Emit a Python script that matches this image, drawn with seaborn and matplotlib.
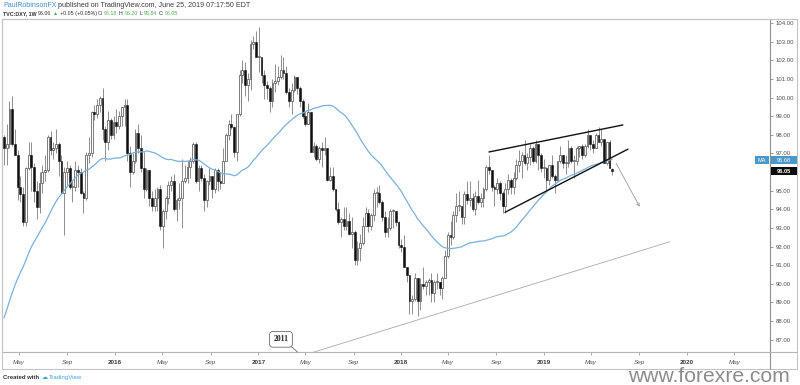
import matplotlib
matplotlib.use("Agg")
import matplotlib.pyplot as plt
import matplotlib.dates as mdates
from matplotlib.patches import Rectangle
from matplotlib.lines import Line2D
import numpy as np
import pandas as pd
import seaborn as sns

# ---------------- data (weekly DXY candles, week starting Monday) ----------------
first_week = "2015-03-23"

open_ = [
    97.9, 97.3, 97.5, 99.4, 97.5, 96.9, 95.2, 94.8, 93.3, 96.2, 96.9, 96.3, 95.0, 94.1, 95.4, 96.0,
    96.1, 97.9, 97.2, 97.3, 97.5, 96.6, 94.9, 96.0, 96.2, 95.2, 95.2, 96.1, 96.0, 94.9, 94.6, 96.9,
    97.0, 99.2, 99.1, 99.6, 100.0, 98.3, 97.6, 98.8, 98.0,
    98.7, 98.5, 99.0, 99.5, 99.6, 97.0, 96.0, 96.6, 98.1, 97.3, 96.2, 95.1, 96.1, 94.6, 94.2, 94.6,
    95.1, 93.1, 93.9, 94.6, 95.3, 95.5, 94.0, 94.5, 94.6, 95.5, 95.7, 96.3, 96.6, 97.5, 95.5, 96.2,
    95.7, 94.5, 95.5, 95.8, 95.1, 96.1, 95.5, 95.4, 96.6, 98.0, 98.6, 98.4, 97.1, 99.1, 101.2, 101.5,
    100.7, 101.0, 102.9, 103.0,
    102.2, 102.2, 101.2, 100.7, 100.5, 99.8, 100.8, 100.9, 101.1, 101.5, 101.3, 100.3, 99.8, 100.4,
    101.1, 100.5, 99.8, 99.0, 98.6, 99.2, 97.1, 97.4, 96.7, 97.3, 97.2, 97.3, 95.6, 95.8, 95.1, 94.0,
    93.3, 93.5, 93.1, 93.4, 92.7, 92.8, 91.3, 91.9, 92.2, 93.1, 93.8, 93.1, 93.7, 94.9, 94.9, 94.4,
    93.6, 92.8, 93.0, 93.9, 93.9, 93.3,
    92.1, 92.0, 90.9, 90.5, 89.1, 89.2, 90.3, 89.1, 90.0, 89.9, 90.1, 90.2, 89.5, 90.1, 90.1, 89.8,
    90.3, 91.5, 92.6, 92.5, 93.7, 94.2, 94.2, 93.6, 94.8, 94.5, 94.6, 94.0, 94.7, 94.4, 94.6, 95.1,
    96.3, 96.1, 95.2, 95.1, 95.4, 94.9, 94.2, 95.1, 95.6, 95.2, 95.7, 96.4, 96.6, 96.9, 96.5, 96.8,
    97.3, 96.6, 97.5, 96.9,
    96.2, 96.2, 95.6, 96.4, 95.8, 95.6, 96.6, 96.9, 96.5, 96.5, 97.3, 96.6, 96.6, 97.3, 97.4, 96.9,
    97.4, 98.0, 97.5, 97.3, 98.0, 97.6, 97.8, 96.5, 97.6, 96.18,
]
high = [
    98.0, 98.6, 99.8, 100.1, 98.3, 97.2, 95.8, 95.2, 96.3, 97.6, 97.6, 96.5, 95.5, 96.0, 96.4, 96.9,
    98.0, 98.2, 97.6, 98.3, 97.6, 96.9, 96.3, 96.6, 96.4, 95.6, 96.6, 96.4, 96.2, 95.0, 97.1, 97.9,
    99.3, 99.6, 99.9, 100.1, 100.5, 98.5, 99.3, 98.9, 99.0,
    99.4, 99.3, 99.5, 99.9, 99.9, 97.4, 97.0, 98.3, 98.6, 98.0, 97.1, 96.2, 96.1, 95.0, 95.1, 95.2,
    95.3, 94.0, 94.7, 95.5, 95.8, 95.9, 94.6, 95.4, 96.7, 96.4, 96.6, 96.8, 97.6, 97.6, 96.4, 96.4,
    95.9, 95.6, 96.2, 95.8, 96.2, 96.2, 96.0, 97.3, 98.1, 98.8, 99.1, 98.5, 99.1, 101.5, 102.0, 101.9,
    101.3, 103.1, 103.3, 103.6,
    103.8, 102.2, 101.5, 100.9, 100.6, 101.0, 101.8, 101.7, 102.3, 102.2, 101.7, 100.5, 100.8, 101.2,
    101.1, 100.6, 99.9, 99.3, 99.7, 99.2, 97.6, 97.5, 97.4, 97.6, 97.9, 97.3, 96.3, 96.3, 95.1, 94.4,
    93.6, 94.1, 94.1, 93.8, 93.6, 92.9, 92.3, 92.7, 93.6, 94.1, 94.0, 93.8, 95.1, 95.2, 95.3, 94.5,
    93.9, 93.6, 94.0, 94.0, 93.9, 93.4,
    92.4, 92.6, 90.9, 90.5, 89.4, 90.6, 90.3, 90.3, 90.9, 90.2, 90.3, 90.6, 90.2, 90.6, 90.1, 90.4,
    91.8, 92.8, 93.4, 93.9, 94.9, 95.0, 94.2, 95.0, 95.5, 95.5, 94.9, 95.0, 95.6, 94.9, 95.2, 96.4,
    96.9, 96.1, 95.3, 95.7, 95.5, 95.0, 95.4, 95.9, 95.7, 96.0, 96.7, 97.2, 97.1, 97.7, 97.0, 97.5,
    97.4, 97.7, 97.5, 97.0,
    96.7, 96.3, 96.4, 96.9, 95.9, 96.6, 97.4, 96.9, 96.9, 97.7, 97.4, 96.9, 97.4, 97.4, 97.5, 97.5,
    98.3, 98.0, 97.7, 98.1, 98.4, 98.3, 97.8, 97.5, 97.7, 96.20,
]
low = [
    96.4, 96.4, 97.3, 97.4, 96.9, 94.5, 94.4, 93.1, 93.1, 96.1, 95.0, 94.4, 93.5, 93.8, 94.9, 95.5,
    96.0, 96.9, 96.7, 97.0, 95.8, 94.8, 92.6, 95.3, 95.1, 94.4, 95.0, 95.2, 94.8, 93.8, 94.5, 96.5,
    96.8, 98.8, 98.9, 99.2, 97.7, 96.6, 97.2, 97.8, 97.8,
    98.1, 98.3, 98.5, 98.5, 96.6, 95.2, 95.9, 96.5, 97.0, 96.0, 94.6, 95.0, 94.2, 93.9, 93.9, 93.9,
    92.9, 91.9, 93.5, 94.3, 95.0, 93.9, 93.4, 94.0, 93.0, 95.4, 95.4, 95.7, 96.5, 95.4, 95.0, 95.5,
    93.9, 94.1, 95.3, 94.6, 94.9, 95.0, 95.1, 95.4, 96.6, 97.7, 98.3, 96.8, 96.6, 99.0, 100.8, 100.1,
    99.8, 100.4, 102.6, 102.2,
    101.4, 100.8, 99.9, 99.9, 99.2, 99.5, 100.3, 100.7, 101.0, 101.0, 100.2, 99.5, 99.1, 100.3,
    100.2, 99.5, 98.9, 98.5, 98.6, 97.1, 96.8, 96.6, 96.5, 96.3, 96.9, 95.5, 95.5, 95.0, 93.9, 93.2,
    92.5, 92.9, 92.9, 92.6, 91.9, 91.0, 91.0, 91.2, 92.1, 93.1, 92.8, 92.9, 93.4, 94.1, 94.3, 93.4,
    92.5, 92.5, 92.9, 93.0, 93.1, 91.9,
    91.7, 90.9, 90.1, 88.4, 88.4, 89.1, 88.25, 88.6, 89.7, 89.4, 89.4, 89.0, 89.0, 89.7, 89.4, 89.2,
    90.3, 91.4, 92.1, 92.4, 93.3, 93.9, 93.2, 93.2, 94.3, 94.2, 93.9, 93.7, 94.3, 94.1, 94.1, 95.0,
    95.9, 95.0, 94.2, 94.8, 94.5, 93.8, 93.8, 94.8, 94.8, 94.8, 95.6, 96.0, 95.7, 96.4, 96.1, 96.4,
    96.5, 96.5, 96.1, 96.0,
    95.7, 95.0, 95.3, 95.7, 94.9, 95.5, 96.5, 96.2, 95.9, 96.3, 96.5, 95.7, 96.4, 96.8, 96.7, 96.8,
    97.3, 97.2, 97.0, 97.3, 97.6, 97.4, 96.5, 96.4, 96.2, 95.84,
]
close = [
    97.3, 97.5, 99.4, 97.5, 96.9, 95.2, 94.8, 93.3, 96.2, 96.9, 96.3, 95.0, 94.1, 95.4, 96.0, 96.1,
    97.9, 97.2, 97.3, 97.5, 96.6, 94.9, 96.0, 96.2, 95.2, 95.25, 96.1, 96.0, 94.9, 94.6, 96.9, 97.0,
    99.2, 99.1, 99.6, 100.0, 98.3, 97.6, 98.8, 98.0, 98.7,
    98.5, 99.0, 99.5, 99.6, 97.0, 96.0, 96.6, 98.1, 97.3, 96.2, 95.1, 96.1, 94.6, 94.2, 94.6, 95.1,
    93.1, 93.9, 94.6, 95.3, 95.5, 94.0, 94.5, 94.6, 95.5, 95.7, 96.3, 96.6, 97.5, 95.5, 96.2, 95.7,
    94.5, 95.5, 95.8, 95.1, 96.1, 95.5, 95.4, 96.6, 98.0, 98.6, 98.4, 97.1, 99.1, 101.2, 101.5, 100.7,
    101.0, 102.9, 103.0, 102.2,
    102.25, 101.2, 100.7, 100.5, 99.8, 100.8, 100.9, 101.1, 101.5, 101.3, 100.3, 99.8, 100.4, 101.1,
    100.5, 99.8, 99.0, 98.6, 99.2, 97.1, 97.4, 96.7, 97.3, 97.2, 97.3, 95.6, 95.8, 95.1, 94.0, 93.3,
    93.5, 93.1, 93.4, 92.7, 92.8, 91.3, 91.9, 92.2, 93.1, 93.8, 93.1, 93.7, 94.9, 94.9, 94.4, 93.6,
    92.8, 93.0, 93.9, 93.9, 93.3, 92.1,
    92.0, 90.9, 90.5, 89.1, 89.2, 90.3, 89.1, 90.0, 89.9, 90.1, 90.2, 89.5, 90.1, 90.1, 89.8, 90.3,
    91.5, 92.6, 92.5, 93.7, 94.2, 94.2, 93.6, 94.8, 94.5, 94.6, 94.0, 94.7, 94.4, 94.6, 95.1, 96.3,
    96.1, 95.2, 95.1, 95.4, 94.9, 94.2, 95.1, 95.6, 95.2, 95.7, 96.4, 96.6, 96.9, 96.5, 96.8, 97.3,
    96.6, 97.5, 96.9, 96.2,
    96.2, 95.6, 96.4, 95.8, 95.6, 96.6, 96.9, 96.5, 96.5, 97.3, 96.6, 96.6, 97.3, 97.4, 96.9, 97.4,
    98.0, 97.5, 97.3, 98.0, 97.6, 97.8, 96.5, 97.6, 96.2, 96.05,
]

# weekly closes before the visible range (Jun 2014 - Mar 2015), they only feed the MA
close_before = [
    80.2, 80.2, 80.1, 80.5, 81.0, 81.4, 81.4, 81.5, 82.3, 82.7, 84.0, 84.3, 84.8, 85.6, 86.7,
    85.8, 85.2, 85.7, 87.0, 87.6, 87.6, 88.2, 88.4, 89.4, 88.4, 89.6, 90.1, 91.3, 91.9, 92.5,
    95.0, 94.8, 94.6, 94.1, 94.4, 95.3, 97.7, 100.0, 97.9,
]
ma_length = 40
ma_last_value = "96.68"
last_close_label = "96.05"

x_tick_dates = ["2015-05-01", "2015-09-01", "2016-01-01", "2016-05-01", "2016-09-01",
                "2017-01-01", "2017-05-01", "2017-09-01", "2018-01-01", "2018-05-01",
                "2018-09-01", "2019-01-01", "2019-05-01", "2019-09-01", "2020-01-01",
                "2020-05-01"]
x_tick_labels = ["May", "Sep", "2016", "May", "Sep", "2017", "May", "Sep", "2018", "May",
                 "Sep", "2019", "May", "Sep", "2020", "May"]
y_ticks = list(range(87, 105))

# drawings on the chart
wedge_upper_dates = ["2018-08-13", "2019-07-21"]
wedge_upper_values = [97.08, 98.53]
wedge_lower_dates = ["2018-09-23", "2019-08-03"]
wedge_lower_values = [93.84, 97.23]
arrow_dates = ["2019-07-04", "2019-09-02"]
arrow_values = [96.47, 94.14]
trend_dates = ["2017-03-23", "2019-11-18"]
trend_values = [85.94, 92.26]
callout_text = "2011"

header1 = ["PaulRobinsonFX", "published on TradingView.com, June 25, 2019 07:17:50 EDT"]
header2 = ["TVC:DXY, 1W", "96.06", "\u25b2", "+0.05 (+0.05%)", "O:", "96.18", "H:", "96.20",
           "L:", "95.84", "C:", "96.05"]

# ---------------- figure ----------------
sns.set_theme(style="white")
plt.rcParams['font.family'] = ['Liberation Sans', 'DejaVu Sans']

W, H = 800, 385
fig = plt.figure(figsize=(W / 100, H / 100), dpi=100)
fig.patch.set_facecolor('white')


def fx(x):
    return x / W


def fy(y):
    return 1 - y / H


ax = fig.add_axes([fx(2), fy(352), (770 - 2) / W, (352 - 19) / H])
ax.set_facecolor('white')

weeks = pd.date_range(first_week, periods=len(close), freq='7D')
df = pd.DataFrame({"week": weeks, "open": open_, "high": high, "low": low, "close": close})
all_close = pd.Series(close_before + close)
df["ma"] = all_close.rolling(ma_length).mean().to_numpy()[len(close_before):]

xs = mdates.date2num(df["week"])
df["x"] = xs
o = df["open"].to_numpy()
c = df["close"].to_numpy()
up = c >= o
bottom = np.minimum(o, c)
height = np.maximum(np.abs(c - o), 0.05)

ax.vlines(xs, df["low"], df["high"], color='#8d8d8d', lw=0.7, zorder=2)
ax.bar(xs[up], height[up], bottom=bottom[up], width=4.6, color='white',
       edgecolor='#5a5a5a', linewidth=0.55, zorder=3)
ax.bar(xs[~up], height[~up], bottom=bottom[~up], width=4.6, color='#111111',
       edgecolor='#111111', linewidth=0.4, zorder=3)

sns.lineplot(data=df, x="x", y="ma", ax=ax, color='#7ab0da', lw=0.9, zorder=4,
             estimator=None, sort=False)

ax.set_xlim(mdates.date2num(pd.Timestamp("2015-03-18")), mdates.date2num(pd.Timestamp("2020-07-31")))
ax.set_ylim(86.34, 104.22)


def dn(lst):
    return mdates.date2num(pd.DatetimeIndex(lst))


ax.plot(dn(wedge_upper_dates), wedge_upper_values, color='#111111', lw=1.0, zorder=5)
ax.plot(dn(wedge_lower_dates), wedge_lower_values, color='#111111', lw=1.0, zorder=5)
ax.plot(dn(trend_dates), trend_values, color='#a9a9a9', lw=0.6, zorder=1)
ad = dn(arrow_dates)
ax.annotate('', xy=(ad[1], arrow_values[1]), xytext=(ad[0], arrow_values[0]),
            arrowprops=dict(arrowstyle='->', color='#9c9c9c', lw=0.6, mutation_scale=5,
                            shrinkA=0, shrinkB=0), zorder=5)

# ticks
ax.set_xticks(dn(x_tick_dates))
ax.set_yticks(y_ticks)
ax.set_yticklabels([f"{v:.2f}" for v in y_ticks])
ax.yaxis.tick_right()
ax.tick_params(axis='y', which='both', length=2.5, width=0.6, color='#8a8a8a', pad=1.5,
               labelsize=4.3, labelcolor='#4d4d4d', direction='out')
ax.tick_params(axis='x', which='both', length=2.5, width=0.6, color='#9a9a9a', pad=3.4,
               labelsize=4.6, labelcolor='#555555', direction='out', bottom=True)
ax.set_xticklabels(x_tick_labels)
for lab in ax.get_xticklabels():
    if lab.get_text().isdigit():
        lab.set_fontweight('bold')
        lab.set_color('#3a3a3a')
    else:
        lab.set_fontstyle('italic')
ax.set_xlabel('')
ax.set_ylabel('')
ax.grid(False)
for side in ['left', 'top']:
    ax.spines[side].set_color('#c4c4c4')
    ax.spines[side].set_linewidth(0.8)
ax.spines['bottom'].set_color('#b5b5b5')
ax.spines['bottom'].set_linewidth(0.8)
ax.spines['right'].set_color('#8f8f8f')
ax.spines['right'].set_linewidth(0.8)

# outer frame and price-axis column
fig.add_artist(Rectangle((fx(2), fy(369)), (797 - 2) / W, (369 - 19) / H, transform=fig.transFigure,
                         fill=False, ec='#c4c4c4', lw=0.8))
fig.add_artist(Line2D([fx(770), fx(770)], [fy(352), fy(369)], transform=fig.transFigure,
                      color='#8f8f8f', lw=0.8))
fig.add_artist(Line2D([fx(770), fx(797)], [fy(352), fy(352)], transform=fig.transFigure,
                      color='#b5b5b5', lw=0.8))

# 2011 callout
fig.add_artist(Line2D([fx(291.5), fx(297.5)], [fy(346.8), fy(352)], transform=fig.transFigure,
                      color='#6b6b6b', lw=0.6))
fig.text(fx(281), fy(339.3), callout_text, ha='center', va='center', fontsize=5.6,
         fontweight='bold', color='#222222', family=['Liberation Serif', 'DejaVu Serif'],
         bbox=dict(boxstyle='round,pad=0.5,rounding_size=0.45', fc='white', ec='#6b6b6b', lw=0.6))

# price labels on the right axis
fig.add_artist(Rectangle((fx(755), fy(163.6)), 14 / W, 7.2 / H, transform=fig.transFigure,
                         fc='#4c96c8', ec='none', zorder=5))
fig.add_artist(Rectangle((fx(771), fy(163.6)), 26 / W, 7.2 / H, transform=fig.transFigure,
                         fc='#4c96c8', ec='none', zorder=5))
fig.text(fx(762), fy(160.0), "MA", ha='center', va='center', fontsize=4.0, color='white', zorder=6)
fig.text(fx(784), fy(160.0), ma_last_value, ha='center', va='center', fontsize=4.1, color='white',
         zorder=6)
fig.add_artist(Rectangle((fx(771), fy(174.8)), 26 / W, 7.4 / H, transform=fig.transFigure,
                         fc='#0d0d0d', ec='none', zorder=5))
fig.text(fx(784), fy(171.1), last_close_label, ha='center', va='center', fontsize=4.1,
         color='white', fontweight='bold', zorder=6)

# ---------------- header / footer text ----------------
fig.canvas.draw()
renderer = fig.canvas.get_renderer()


def text_width(s, size, weight='normal'):
    t = fig.text(0, 0, s, fontsize=size, fontweight=weight)
    w = t.get_window_extent(renderer=renderer).width
    t.remove()
    return w


def draw_parts(x_px, y_px, parts, size):
    x = x_px
    for s, color, weight, gap in parts:
        x += gap
        t = fig.text(fx(x), fy(y_px), s, fontsize=size, color=color, fontweight=weight,
                     ha='left', va='center')
        x += t.get_window_extent(renderer=renderer).width
    return x


s1 = 5.0 * 250 / text_width(header1[0] + " " + header1[1], 5.0)
sp1 = s1 * 0.28 * 100 / 72
draw_parts(3, 5.2, [(header1[0], '#3d8ed6', 'normal', 0),
                    (header1[1], '#3b3b3b', 'normal', sp1)], s1)

s2 = 5.0 * 178 / text_width(" ".join(header2), 5.0)
sp2 = s2 * 0.28 * 100 / 72
dark = '#2f2f2f'
green = '#4caf50'
draw_parts(3, 13.6, [
    (header2[0], dark, 'bold', 0), (header2[1], dark, 'normal', sp2),
    (header2[2], green, 'normal', sp2), (header2[3], dark, 'normal', sp2),
    (header2[4], dark, 'normal', sp2), (header2[5], green, 'normal', 0.5),
    (header2[6], dark, 'normal', sp2), (header2[7], green, 'normal', 0.5),
    (header2[8], dark, 'normal', sp2), (header2[9], green, 'normal', 0.5),
    (header2[10], dark, 'normal', sp2), (header2[11], green, 'normal', 0.5),
], s2)

draw_parts(3, 377.5, [("Created with", '#333333', 'bold', 0),
                      ("\u2601", '#3fa0e0', 'normal', 2.5),
                      ("TradingView", '#3fa0e0', 'normal', 1.0)], 4.3)

sw = 15.0 * 162 / text_width("www.forexre.com", 15.0)
fig.text(fx(628), fy(381.5), "www.forexre.com", fontsize=sw, color='#8c8c8c',
         ha='left', va='baseline')

fig.savefig("out.png", dpi=100, facecolor='white')
